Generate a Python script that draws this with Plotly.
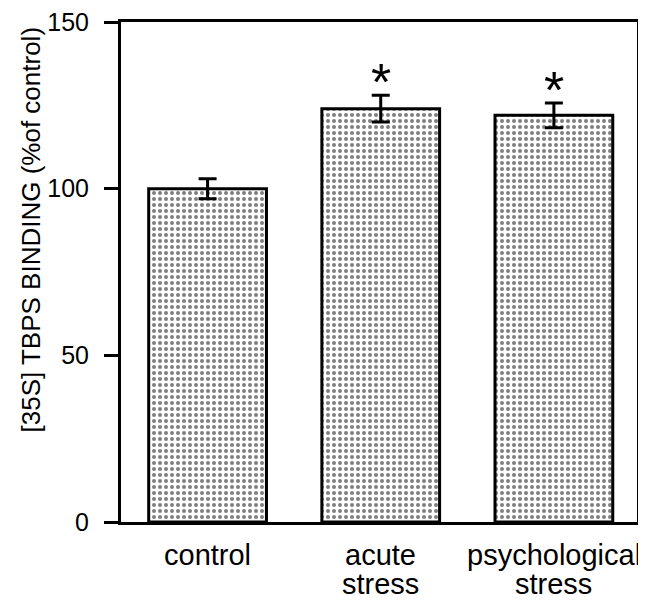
import plotly.graph_objects as go

category_lines = [["control"], ["acute", "stress"], ["psychological", "stress"]]
values = [100, 124, 122]
errors = [3, 4, 3.7]
significance = ["", "*", "*"]
y_ticks = [0, 50, 100, 150]
y_title = "[35S] TBPS BINDING (%of control)"

x_pos = list(range(len(category_lines)))
FONT = "Liberation Sans, Arial, Helvetica"

fig = go.Figure()
fig.add_trace(go.Bar(
    x=x_pos, y=values, width=0.68,
    marker=dict(color="white", line=dict(color="black", width=3),
                pattern=dict(shape=".", fgcolor="black", bgcolor="white", size=6, solidity=0.35)),
    error_y=dict(type="data", array=errors, visible=True, color="black", thickness=3, width=9),
    showlegend=False,
))

for xi, v, e, s in zip(x_pos, values, errors, significance):
    if s:
        fig.add_annotation(x=xi, y=v + e, text=s, showarrow=False, yanchor="bottom", yshift=-18,
                           font=dict(size=52, color="black", family=FONT))

for xi, lines in zip(x_pos, category_lines):
    for li, line in enumerate(lines):
        fig.add_annotation(x=xi, xref="x", y=0, yref="paper", text=line, showarrow=False,
                           yanchor="middle", yshift=-33 - 29 * li,
                           font=dict(size=29, color="black", family=FONT))

fig.add_annotation(x=0, xref="paper", y=0.585, yref="paper", text=y_title, showarrow=False,
                   textangle=-90, xanchor="center", yanchor="middle", xshift=-91,
                   font=dict(size=26, color="black", family=FONT))

fig.update_layout(
    width=638, height=595,
    margin=dict(l=113, r=9, t=14, b=81),
    plot_bgcolor="white", paper_bgcolor="white",
    font=dict(family=FONT, color="black", size=25),
)
fig.update_xaxes(
    range=[-0.5, 2.48], tickvals=x_pos, showticklabels=False, ticks="",
    showline=True, linecolor="black", linewidth=3, mirror=True,
    showgrid=False, zeroline=False, automargin=False,
)
fig.update_yaxes(
    range=[0, 150], tickvals=y_ticks, ticks="outside", ticklen=14, tickwidth=3,
    tickcolor="black", showline=True, linecolor="black", linewidth=3, mirror=True,
    showgrid=False, zeroline=False, tickfont=dict(size=25), ticklabelstandoff=10,
    ticklabeloverflow="allow", automargin=False,
)

fig.write_html("out.html")
